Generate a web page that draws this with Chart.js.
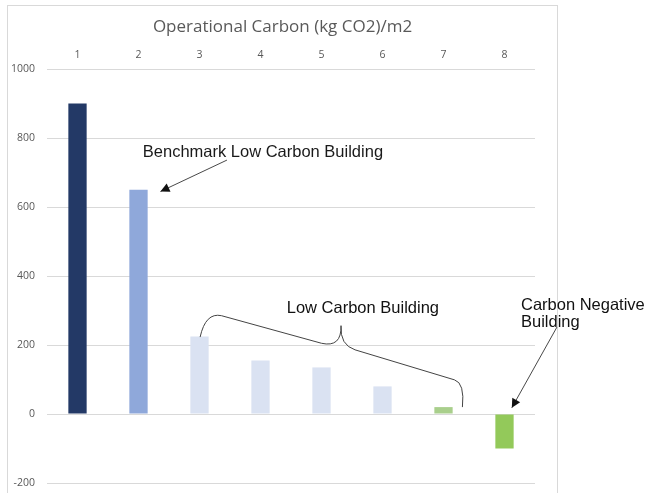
<!DOCTYPE html>
<html>
<head>
<meta charset="utf-8">
<script src="https://cdn.jsdelivr.net/npm/chart.js@4/dist/chart.umd.min.js"></script>
<style>
  html, body { margin: 0; padding: 0; background: #fff; overflow: hidden; }
  #wrap { position: relative; width: 646px; height: 493px; }
</style>
</head>
<body>
<div id="wrap"><canvas id="chart"></canvas></div>
<script>
// ── Data ────────────────────────────────────────────────────
const TITLE = "Operational Carbon (kg CO2)/m2";
const CATEGORIES = ["1", "2", "3", "4", "5", "6", "7", "8"];
const CARBON = [900, 650, 225, 155, 135, 80, 20, -100];
const Y_TICKS = [-200, 0, 200, 400, 600, 800, 1000];
const BAR_COLORS = ["#233966", "#8FA8DA", "#DAE2F2", "#DAE2F2", "#DAE2F2", "#DAE2F2", "#A9CF8C", "#93C95A"];

const TEXT_GREY = "#595959";
const NOTE_FONT = "16.5px 'Liberation Sans', Arial, sans-serif";

// ── Frame + title (Excel chart border, title centred on frame) ─
const framePlugin = {
  id: "frame",
  beforeDraw(chart) {
    const ctx = chart.ctx;
    ctx.save();
    ctx.fillStyle = "#fff";
    ctx.fillRect(0, 0, chart.width, chart.height);
    ctx.strokeStyle = "#D9D9D9";
    ctx.lineWidth = 1;
    ctx.strokeRect(7.5, 5.5, 550, chart.height + 10);
    ctx.font = "17px 'Open Sans', sans-serif";
    ctx.fillStyle = TEXT_GREY;
    ctx.textAlign = "center";
    ctx.textBaseline = "middle";
    ctx.fillText(TITLE, 282.5, 27);
    ctx.restore();
  }
};

// ── Annotations, placed in data space (category index, value) ─
const notesPlugin = {
  id: "notes",
  afterDatasetsDraw(chart) {
    const ctx = chart.ctx;
    const xs = chart.scales.x, ys = chart.scales.y;
    const P = (i, v) => [xs.getPixelForValue(i), ys.getPixelForValue(v)];

    function arrow(from, to) {
      ctx.beginPath();
      ctx.moveTo(from[0], from[1]);
      ctx.lineTo(to[0], to[1]);
      ctx.strokeStyle = "#333";
      ctx.lineWidth = 0.9;
      ctx.stroke();
      const a = Math.atan2(to[1] - from[1], to[0] - from[0]);
      const len = 9, w = 4.5;
      ctx.beginPath();
      ctx.moveTo(to[0], to[1]);
      ctx.lineTo(to[0] - len * Math.cos(a) + w * Math.sin(a), to[1] - len * Math.sin(a) - w * Math.cos(a));
      ctx.lineTo(to[0] - len * Math.cos(a) - w * Math.sin(a), to[1] - len * Math.sin(a) + w * Math.cos(a));
      ctx.closePath();
      ctx.fillStyle = "#111";
      ctx.fill();
    }

    ctx.save();
    ctx.font = NOTE_FONT;
    ctx.fillStyle = "#1a1a1a";
    ctx.textBaseline = "middle";
    ctx.textAlign = "left";

    // Benchmark
    let p = P(1.07, 759);
    ctx.fillText("Benchmark Low Carbon Building", p[0], p[1]);
    arrow(P(2.45, 736), P(1.36, 645));

    // Low carbon + brace
    p = P(3.43, 307);
    ctx.fillText("Low Carbon Building", p[0], p[1]);
    const b0 = P(2.01, 223), c0 = P(2.1, 295), b1 = P(2.36, 285);
    const b2 = P(4.0, 205), c1 = P(4.33, 192), b3 = P(4.32, 256);
    const c2 = P(4.3, 200), b4 = P(4.55, 186);
    const b5 = P(6.18, 99), c3 = P(6.35, 90), b6 = P(6.31, 20);
    ctx.beginPath();
    ctx.moveTo(b0[0], b0[1]);
    ctx.quadraticCurveTo(c0[0], c0[1], b1[0], b1[1]);
    ctx.lineTo(b2[0], b2[1]);
    ctx.quadraticCurveTo(c1[0], c1[1], b3[0], b3[1]);
    ctx.quadraticCurveTo(c2[0], c2[1], b4[0], b4[1]);
    ctx.lineTo(b5[0], b5[1]);
    ctx.quadraticCurveTo(c3[0], c3[1], b6[0], b6[1]);
    ctx.strokeStyle = "#444";
    ctx.lineWidth = 1;
    ctx.stroke();

    // Carbon negative
    p = P(7.27, 316);
    ctx.fillText("Carbon Negative", p[0], p[1]);
    p = P(7.27, 266);
    ctx.fillText("Building", p[0], p[1]);
    arrow(P(7.86, 252), P(7.12, 18));

    ctx.restore();
  }
};

// ── Chart ───────────────────────────────────────────────────
new Chart(document.getElementById("chart"), {
  type: "bar",
  data: {
    labels: CATEGORIES,
    datasets: [{
      data: CARBON,
      backgroundColor: BAR_COLORS,
      borderWidth: 0,
      categoryPercentage: 1,
      barPercentage: 0.3
    }]
  },
  options: {
    responsive: true,
    maintainAspectRatio: false,
    animation: false,
    devicePixelRatio: 1,
    layout: { padding: { left: 7, right: 111, top: 41, bottom: 10 } },
    plugins: {
      legend: { display: false },
      tooltip: { enabled: false },
      title: { display: false }
    },
    scales: {
      x: {
        position: "top",
        grid: { display: false, drawTicks: false },
        border: { display: false },
        ticks: {
          color: TEXT_GREY,
          font: { family: "'Open Sans', sans-serif", size: 10.5 },
          padding: 8,
          maxRotation: 0
        },
        afterFit(scale) { scale.height = 28; }
      },
      y: {
        min: -200,
        max: 1000,
        afterBuildTicks(scale) { scale.ticks = Y_TICKS.map((v) => ({ value: v })); },
        grid: { color: "#D9D9D9", lineWidth: 1, drawTicks: false },
        border: { display: false },
        ticks: {
          color: TEXT_GREY,
          font: { family: "'Open Sans', sans-serif", size: 10.5 },
          padding: 12,
          callback: (v) => String(v)
        },
        afterFit(scale) { scale.width = 40; scale.paddingBottom = 0; }
      }
    }
  },
  plugins: [framePlugin, notesPlugin]
});
</script>
</body>
</html>
